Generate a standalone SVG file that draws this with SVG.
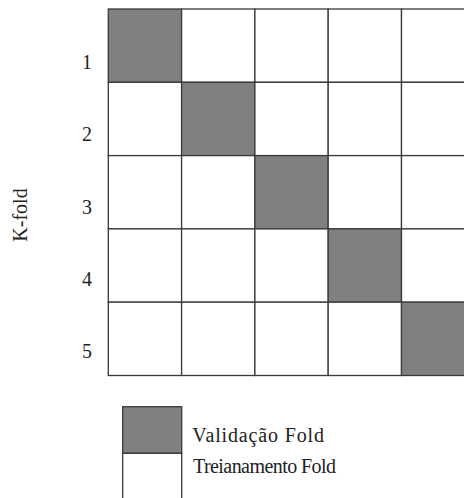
<svg xmlns="http://www.w3.org/2000/svg" width="464" height="498" viewBox="0 0 464 498">
<style>
.c{fill:#ffffff;stroke:#3a3a3a;stroke-width:1.3}
.v{fill:#808080;stroke:#3a3a3a;stroke-width:1.3}
text{font-family:'Liberation Serif','Times New Roman','DejaVu Serif',serif;fill:#222}
.t{font-size:20px}
.l{font-size:20px}
</style>
<rect width="464" height="498" fill="#ffffff"/>
<g id="grid">
<rect class="v" x="108.3" y="9" width="73.3" height="73.3"/>
<rect class="c" x="181.6" y="9" width="73.3" height="73.3"/>
<rect class="c" x="254.9" y="9" width="73.3" height="73.3"/>
<rect class="c" x="328.2" y="9" width="73.3" height="73.3"/>
<rect class="c" x="401.5" y="9" width="73.3" height="73.3"/>
<rect class="c" x="108.3" y="82.3" width="73.3" height="73.3"/>
<rect class="v" x="181.6" y="82.3" width="73.3" height="73.3"/>
<rect class="c" x="254.9" y="82.3" width="73.3" height="73.3"/>
<rect class="c" x="328.2" y="82.3" width="73.3" height="73.3"/>
<rect class="c" x="401.5" y="82.3" width="73.3" height="73.3"/>
<rect class="c" x="108.3" y="155.6" width="73.3" height="73.3"/>
<rect class="c" x="181.6" y="155.6" width="73.3" height="73.3"/>
<rect class="v" x="254.9" y="155.6" width="73.3" height="73.3"/>
<rect class="c" x="328.2" y="155.6" width="73.3" height="73.3"/>
<rect class="c" x="401.5" y="155.6" width="73.3" height="73.3"/>
<rect class="c" x="108.3" y="228.9" width="73.3" height="73.3"/>
<rect class="c" x="181.6" y="228.9" width="73.3" height="73.3"/>
<rect class="c" x="254.9" y="228.9" width="73.3" height="73.3"/>
<rect class="v" x="328.2" y="228.9" width="73.3" height="73.3"/>
<rect class="c" x="401.5" y="228.9" width="73.3" height="73.3"/>
<rect class="c" x="108.3" y="302.2" width="73.3" height="73.3"/>
<rect class="c" x="181.6" y="302.2" width="73.3" height="73.3"/>
<rect class="c" x="254.9" y="302.2" width="73.3" height="73.3"/>
<rect class="c" x="328.2" y="302.2" width="73.3" height="73.3"/>
<rect class="v" x="401.5" y="302.2" width="73.3" height="73.3"/>
</g>
<g id="labels">
<text class="t" x="87" y="68.7" text-anchor="middle">1</text>
<text class="t" x="87" y="141.1" text-anchor="middle">2</text>
<text class="t" x="87" y="213.5" text-anchor="middle">3</text>
<text class="t" x="87" y="285.9" text-anchor="middle">4</text>
<text class="t" x="87" y="358.3" text-anchor="middle">5</text>
<text class="t" transform="translate(27,215) rotate(-90)" text-anchor="middle">K-fold</text>
</g>
<g id="legend">
<rect class="v" x="122.7" y="406.7" width="59" height="46.6"/>
<rect class="c" x="122.7" y="453.3" width="59" height="60"/>
<text class="l" x="192.3" y="441.7" textLength="131.7" lengthAdjust="spacing">Validação Fold</text>
<text class="l" x="193" y="473" textLength="143" lengthAdjust="spacing">Treianamento Fold</text>
</g>
</svg>
